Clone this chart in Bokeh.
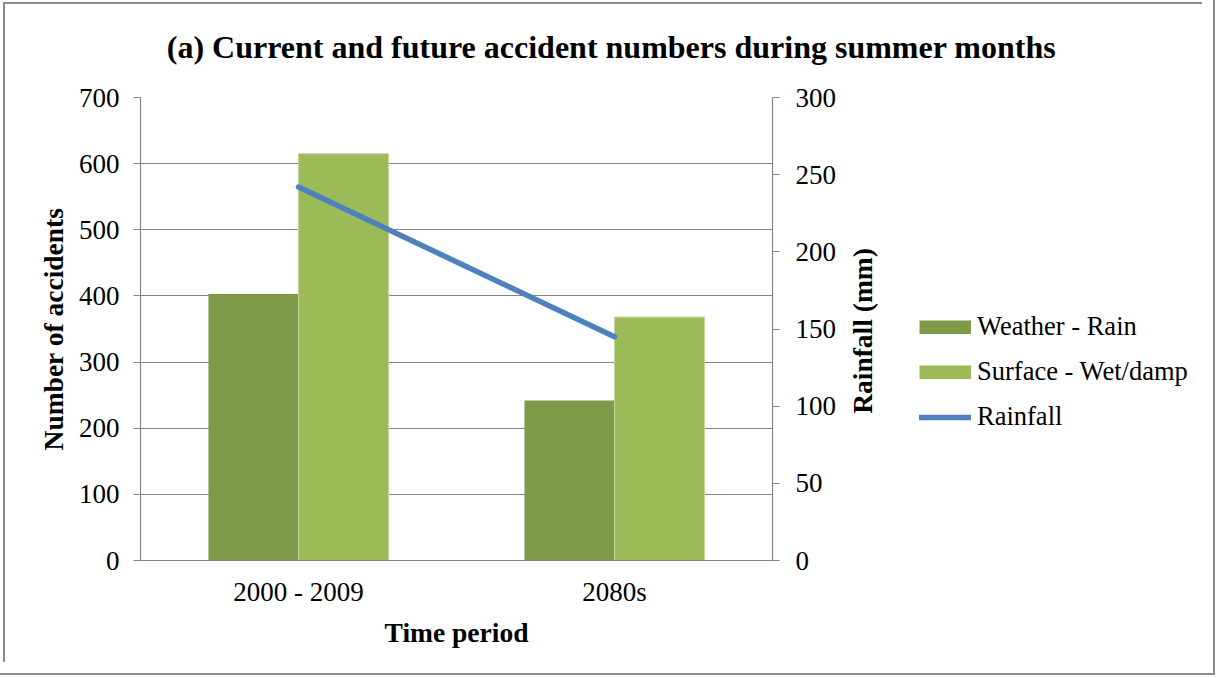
from math import pi
from bokeh.plotting import figure
from bokeh.layouts import row, column
from bokeh.models import (ColumnDataSource, FactorRange, Range1d, LinearAxis,
                          FixedTicker, Legend, LegendItem, Label)
from bokeh.transform import dodge
from bokeh.embed import file_html
from bokeh.resources import INLINE

# ---- data ----
periods = ["2000 - 2009", "2080s"]
weather_rain = [403, 242]
surface_wet = [615, 368]
rainfall = [242, 145]
acc_ticks = [0, 100, 200, 300, 400, 500, 600, 700]
rain_ticks = [0, 50, 100, 150, 200, 250, 300]
series_names = ["Weather - Rain", "Surface - Wet/damp", "Rainfall"]
title_text = "(a) Current and future accident numbers during summer months"

SERIF = "Liberation Serif"
GREY = "#868686"
DARK = "#7F9A48"
LIGHT = "#9BBB59"
BLUE = "#4F81BD"

TOTAL_W, TOTAL_H = 1202, 662
TITLE_H = 77
MAIN_W = 842
BODY_H = TOTAL_H - TITLE_H


def blank_fig(w, h):
    f = figure(x_range=Range1d(0, w), y_range=Range1d(0, h), width=w, height=h,
               min_border=0, x_axis_location=None, y_axis_location=None,
               output_backend="svg", toolbar_location=None, tools="")
    f.outline_line_color = None
    f.background_fill_alpha = 0
    f.border_fill_alpha = 0
    f.xgrid.grid_line_color = None
    f.ygrid.grid_line_color = None
    return f


# ---------------- title strip ----------------
t = blank_fig(TOTAL_W, TITLE_H)
t.add_layout(Label(x=611, y=31, text=title_text,
                   text_align="center", text_baseline="alphabetic",
                   text_font=SERIF, text_font_style="bold",
                   text_font_size="32px", text_color="black"))

# ---------------- main chart ----------------
src = ColumnDataSource(dict(period=periods, weather=weather_rain,
                            surface=surface_wet, rain=rainfall))

p = figure(x_range=FactorRange(factors=periods, range_padding=0),
           y_range=Range1d(0, 700),
           width=MAIN_W, height=BODY_H,
           min_border_left=140, min_border_right=70,
           min_border_top=20, min_border_bottom=102,
           output_backend="svg", toolbar_location=None, tools="")
p.extra_y_ranges = {"rain": Range1d(0, 300)}
p.outline_line_color = None
p.background_fill_color = "white"
p.border_fill_alpha = 0

bw = 0.285
p.vbar(x=dodge("period", -bw / 2, range=p.x_range), top="weather", width=bw,
       source=src, fill_color=DARK, line_color=None)
p.vbar(x=dodge("period", bw / 2, range=p.x_range), top="surface", width=bw,
       source=src, fill_color=LIGHT, line_color="#c2d69a", line_width=1)
p.line(x="period", y="rain", source=src, y_range_name="rain",
       line_color=BLUE, line_width=5.5, line_cap="round")

p.xgrid.grid_line_color = None
p.ygrid.ticker = FixedTicker(ticks=acc_ticks)
p.ygrid.grid_line_color = GREY
p.ygrid.grid_line_width = 1.2


def style_axis(ax):
    ax.axis_line_color = GREY
    ax.axis_line_width = 1.2
    ax.major_tick_line_color = GREY
    ax.major_tick_line_width = 1.2
    ax.major_tick_out = 7
    ax.major_tick_in = 0
    ax.minor_tick_line_color = None
    ax.major_label_text_font = SERIF
    ax.major_label_text_font_size = "27px"
    ax.major_label_text_color = "black"
    ax.axis_label_text_font = SERIF
    ax.axis_label_text_font_style = "bold"
    ax.axis_label_text_font_size = "27.5px"
    ax.axis_label_text_color = "black"


ly = p.yaxis[0]
ly.ticker = FixedTicker(ticks=acc_ticks)
style_axis(ly)
ly.major_label_standoff = 14
ly.axis_label = "Number of accidents"
ly.axis_label_standoff = 7

bx = p.xaxis[0]
style_axis(bx)
bx.major_tick_out = 0
bx.major_label_standoff = 16
bx.axis_label = "Time period"
bx.axis_label_standoff = 7

ry = LinearAxis(y_range_name="rain", ticker=FixedTicker(ticks=rain_ticks))
style_axis(ry)
ry.major_label_standoff = 16
p.add_layout(ry, "right")

# ---------------- side panel: right-axis title + legend ----------------
q = blank_fig(TOTAL_W - MAIN_W, BODY_H)

# legend swatch renderers: data placed outside the visible range
off = ColumnDataSource(dict(x=[-1000, -990], y=[-1000, -1000]))
g1 = q.line(x="x", y="y", source=off, line_color=DARK, line_width=14,
            line_cap="butt")
g2 = q.line(x="x", y="y", source=off, line_color=LIGHT, line_width=14,
            line_cap="butt")
g3 = q.line(x="x", y="y", source=off, line_color=BLUE, line_width=5.5,
            line_cap="round")

q.add_layout(Label(x=20, y=290, text="Rainfall (mm)", angle=pi / 2,
                   text_align="center", text_baseline="middle",
                   text_font=SERIF, text_font_style="bold",
                   text_font_size="27.5px", text_color="black"))

legend = Legend(items=[LegendItem(label=series_names[0], renderers=[g1]),
                       LegendItem(label=series_names[1], renderers=[g2]),
                       LegendItem(label=series_names[2], renderers=[g3])],
                location=(77, 128), orientation="vertical",
                border_line_color=None, background_fill_alpha=0,
                glyph_width=52, glyph_height=14, label_standoff=6,
                spacing=14, padding=10, margin=0,
                label_text_font=SERIF, label_text_font_size="26.5px",
                label_text_color="black")
q.add_layout(legend, "center")

layout = column(t, row(p, q, spacing=0), spacing=0)
layout.styles = {"outline": "2px solid #8c8c8c", "outline-offset": "11px",
                 "box-shadow": "inset 3px 2px 0 0 #ffffff, inset 5px 4px 0 0 #8c8c8c"}

open("out.html", "w").write(file_html(layout, INLINE))
